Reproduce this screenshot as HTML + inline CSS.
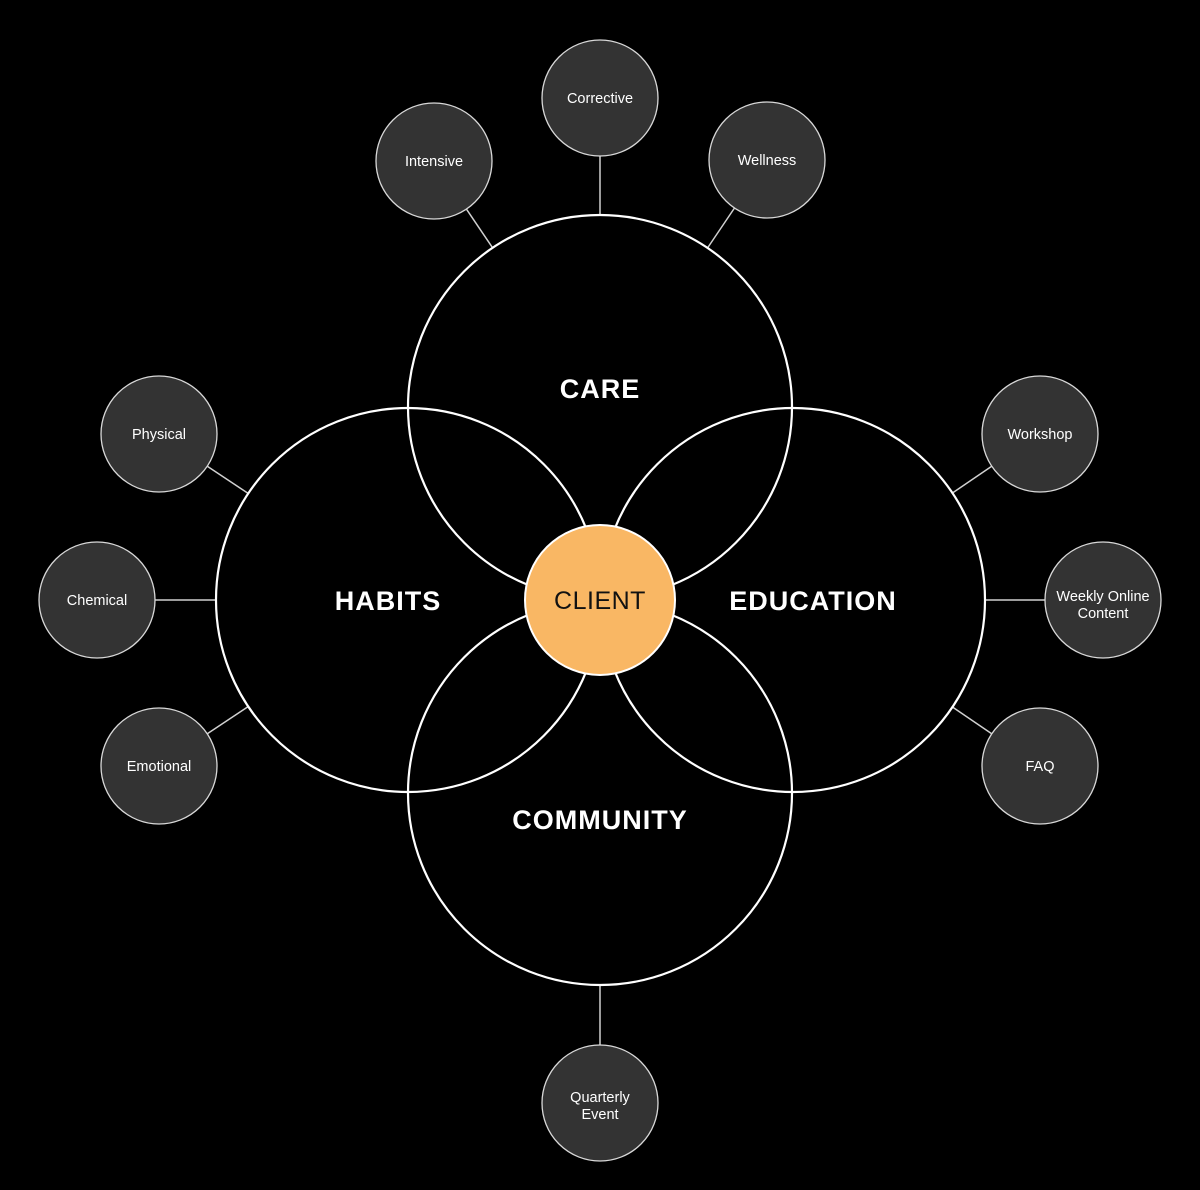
<!DOCTYPE html>
<html><head><style>
html,body{margin:0;padding:0;background:#000;}
svg{display:block;}
text{font-family:"Liberation Sans",sans-serif;}
.s{fill:#fff;font-size:14.5px;text-anchor:middle;}
.b{fill:#fff;font-size:27px;font-weight:bold;text-anchor:middle;letter-spacing:1px;}
</style></head><body>
<svg width="1200" height="1190" viewBox="0 0 1200 1190">
<rect width="1200" height="1190" fill="#000"/>
<g stroke="#d0d0d0" stroke-width="1.5">
<line x1="600" y1="156" x2="600" y2="215"/>
<line x1="466.4" y1="209.1" x2="492.6" y2="247.8"/>
<line x1="734.5" y1="208" x2="707.5" y2="248"/>
<line x1="207.3" y1="466.2" x2="248.3" y2="493.5"/>
<line x1="155" y1="600" x2="216" y2="600"/>
<line x1="207.3" y1="733.8" x2="248.3" y2="706.5"/>
<line x1="991.7" y1="466.2" x2="951.7" y2="493.5"/>
<line x1="985" y1="600" x2="1045" y2="600"/>
<line x1="991.7" y1="733.8" x2="951.7" y2="706.5"/>
<line x1="600" y1="985" x2="600" y2="1045"/>
</g>
<g fill="none" stroke="#fff" stroke-width="2.2">
<circle cx="600" cy="407" r="192"/>
<circle cx="408" cy="600" r="192"/>
<circle cx="793" cy="600" r="192"/>
<circle cx="600" cy="793" r="192"/>
</g>
<circle cx="600" cy="600" r="75" fill="#F9B764" stroke="#fff" stroke-width="2"/>
<text x="600" y="609" style="font-size:25px;fill:#111;text-anchor:middle;letter-spacing:0.5px">CLIENT</text>
<g fill="#333" stroke="#d8d8d8" stroke-width="1.3">
<circle cx="600" cy="98" r="58"/>
<circle cx="434" cy="161" r="58"/>
<circle cx="767" cy="160" r="58"/>
<circle cx="159" cy="434" r="58"/>
<circle cx="97" cy="600" r="58"/>
<circle cx="159" cy="766" r="58"/>
<circle cx="1040" cy="434" r="58"/>
<circle cx="1103" cy="600" r="58"/>
<circle cx="1040" cy="766" r="58"/>
<circle cx="600" cy="1103" r="58"/>
</g>
<text class="s" x="600" y="103">Corrective</text>
<text class="s" x="434" y="166">Intensive</text>
<text class="s" x="767" y="165">Wellness</text>
<text class="s" x="159" y="439">Physical</text>
<text class="s" x="97" y="605">Chemical</text>
<text class="s" x="159" y="771">Emotional</text>
<text class="s" x="1040" y="439">Workshop</text>
<text class="s" x="1103" y="601">Weekly Online</text>
<text class="s" x="1103" y="618">Content</text>
<text class="s" x="1040" y="771">FAQ</text>
<text class="s" x="600" y="1102">Quarterly</text>
<text class="s" x="600" y="1119">Event</text>
<text class="b" x="600" y="398">CARE</text>
<text class="b" x="388" y="610">HABITS</text>
<text class="b" x="813" y="610">EDUCATION</text>
<text class="b" x="600" y="829">COMMUNITY</text>
</svg>
</body></html>
